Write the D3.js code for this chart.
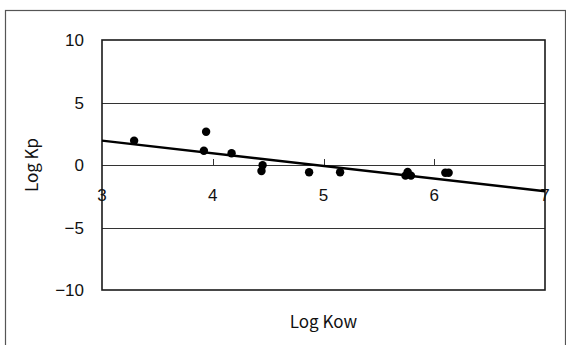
<!DOCTYPE html>
<html>
<head>
<meta charset="utf-8">
<script src="https://cdn.jsdelivr.net/npm/d3@7"></script>
<style>
  body { margin: 0; background: #fff; }
  text { font-family: "Noto Sans CJK JP", "Noto Sans", sans-serif; fill: #111; }
  .tick-label { font-family: "Liberation Sans Narrow", "Liberation Sans", sans-serif; }
</style>
</head>
<body>
<div id="chart"></div>
<script>
// 観測値 (Log Kow, Log Kp)
const logKow = [3.29, 3.94, 3.92, 4.17, 4.45, 4.44, 4.87, 5.15, 5.76, 5.74, 5.79, 6.10, 6.13];
const logKp  = [1.94, 2.66, 1.14, 0.94, -0.02, -0.48, -0.58, -0.58, -0.55, -0.85, -0.85, -0.62, -0.62];

// 近似直線
const trendX = [3, 7];
const trendY = [1.95, -2.1];

const xTicks = [3, 4, 5, 6, 7];
const yTicks = [-10, -5, 0, 5, 10];

const W = 566, H = 345;
const plot = {left: 102, right: 545, top: 40, bottom: 290};

const svg = d3.select("#chart").append("svg")
    .attr("width", W)
    .attr("height", H);

// 外枠
svg.append("rect")
    .attr("x", 5.5).attr("y", 10.5)
    .attr("width", 560).attr("height", 360)
    .attr("fill", "none")
    .attr("stroke", "#555")
    .attr("stroke-width", 1.2);

const x = d3.scaleLinear().domain([3, 7]).range([plot.left, plot.right]);
const y = d3.scaleLinear().domain([-10, 10]).range([plot.bottom, plot.top]);

// 目盛線
svg.append("g")
    .selectAll("line")
    .data(yTicks.filter(d => d !== 10 && d !== -10))
    .join("line")
    .attr("x1", plot.left).attr("x2", plot.right)
    .attr("y1", d => Math.round(y(d)) + 0.5)
    .attr("y2", d => Math.round(y(d)) + 0.5)
    .attr("stroke", "#333")
    .attr("stroke-width", 1);

// X軸の目盛 (0 の線の上)
svg.append("g")
    .selectAll("line")
    .data(xTicks.slice(1, -1))
    .join("line")
    .attr("x1", d => Math.round(x(d)) + 0.5)
    .attr("x2", d => Math.round(x(d)) + 0.5)
    .attr("y1", y(0))
    .attr("y2", y(0) - 6)
    .attr("stroke", "#333");

// プロット枠
svg.append("rect")
    .attr("x", plot.left).attr("y", plot.top)
    .attr("width", plot.right - plot.left)
    .attr("height", plot.bottom - plot.top)
    .attr("fill", "none")
    .attr("stroke", "#1a1a1a")
    .attr("stroke-width", 1.6);

// Y軸ラベル
svg.append("g")
    .selectAll("text")
    .data(yTicks)
    .join("text")
    .attr("class", "tick-label")
    .attr("x", 84)
    .attr("y", d => y(d))
    .attr("dy", "0.36em")
    .attr("text-anchor", "end")
    .style("font-size", "17px")
    .text(d => d < 0 ? "\u2212" + Math.abs(d) : d);

// X軸ラベル
svg.append("g")
    .selectAll("text")
    .data(xTicks)
    .join("text")
    .attr("class", "tick-label")
    .attr("x", d => x(d))
    .attr("y", y(0) + 30)
    .attr("dy", "0.36em")
    .attr("text-anchor", "middle")
    .style("font-size", "17px")
    .text(d => d);

// 近似直線
svg.append("line")
    .attr("x1", x(trendX[0])).attr("y1", y(trendY[0]))
    .attr("x2", x(trendX[1])).attr("y2", y(trendY[1]))
    .attr("stroke", "#000")
    .attr("stroke-width", 2.5);

// データ点
svg.append("g")
    .selectAll("circle")
    .data(logKow.map((d, i) => [d, logKp[i]]))
    .join("circle")
    .attr("cx", d => x(d[0]))
    .attr("cy", d => y(d[1]))
    .attr("r", 4.2)
    .attr("fill", "#000");

// 軸タイトル
svg.append("text")
    .attr("x", (plot.left + plot.right) / 2)
    .attr("y", 322)
    .attr("dy", "0.36em")
    .attr("text-anchor", "middle")
    .style("font-size", "17px")
    .text("Log Kow");

svg.append("text")
    .attr("transform", `translate(32,${y(0)}) rotate(-90)`)
    .attr("dy", "0.36em")
    .attr("text-anchor", "middle")
    .style("font-size", "17px")
    .text("Log Kp");
</script>
</body>
</html>
